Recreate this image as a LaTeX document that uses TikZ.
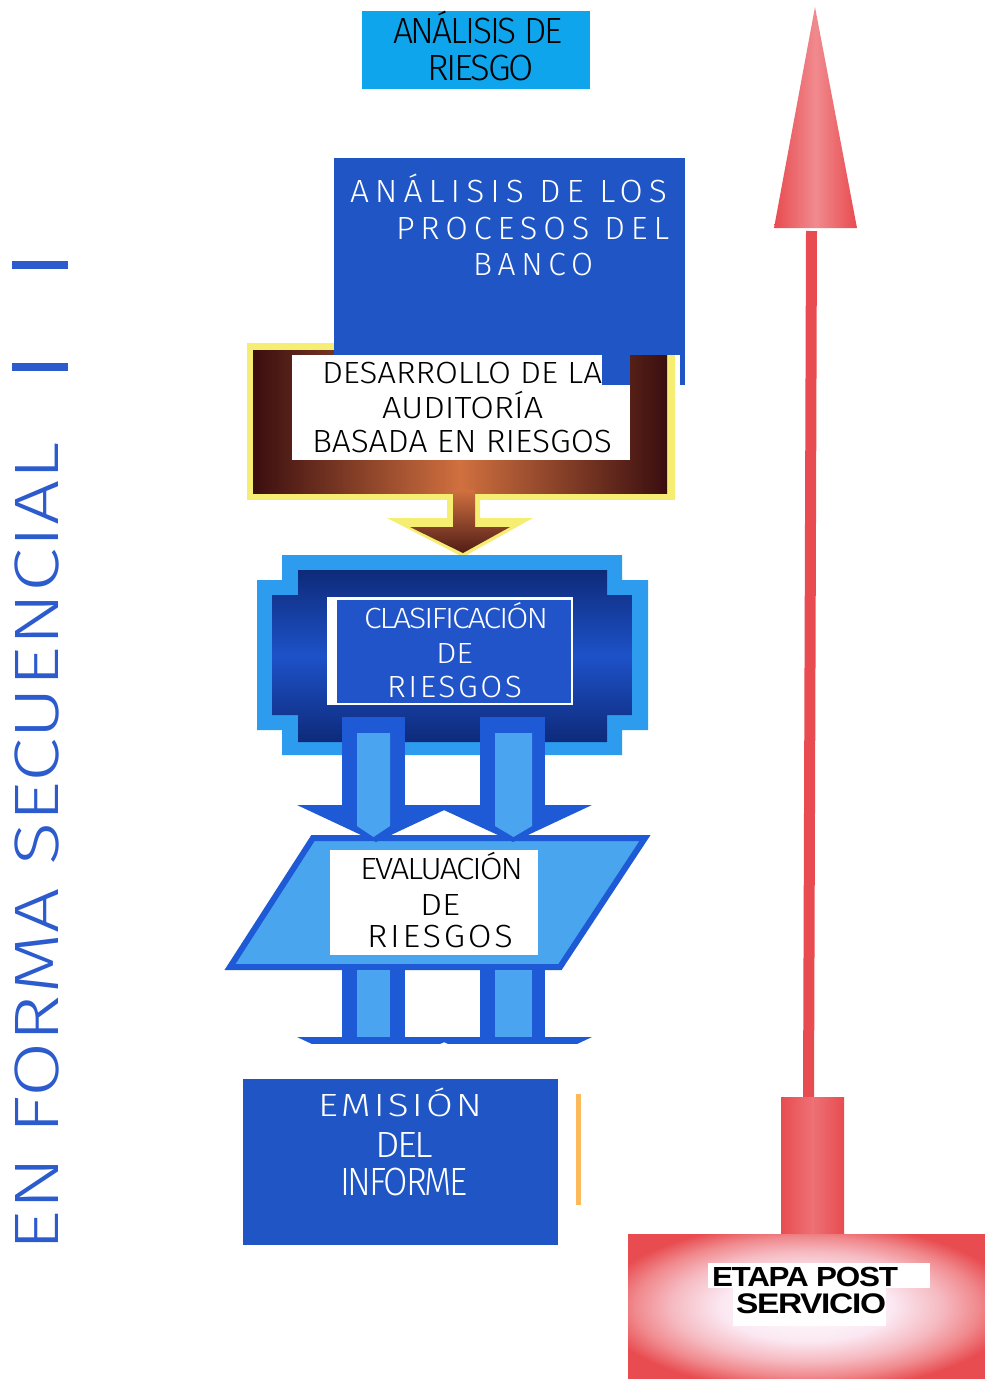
\documentclass[tikz,border=0pt]{standalone}
\usepackage{fontspec}
\usepackage{graphicx}
\newfontfamily\lt{Fira Sans Light}
\newfontfamily\ltw{Fira Sans Light}[LetterSpace=18]
\newfontfamily\ltm{Fira Sans Light}[LetterSpace=8]
\newfontfamily\ltc{Fira Sans Light}[LetterSpace=-6]
\newfontfamily\blk{Liberation Sans}[LetterSpace=-4]
\definecolor{cyanbox}{HTML}{0EA5EC}
\definecolor{boxblue}{HTML}{1F55C4}
\definecolor{sideblue}{HTML}{2B5BCD}
\definecolor{yel}{HTML}{F5EE72}
\definecolor{brdark}{HTML}{3A0E0F}
\definecolor{brmid}{HTML}{D0703F}
\definecolor{crossout}{HTML}{2E9CEE}
\definecolor{crossin}{HTML}{1D52C8}
\definecolor{crossnavy}{HTML}{0E2A7A}
\definecolor{txtblue}{HTML}{2154C8}
\definecolor{arrblue}{HTML}{1E5AD6}
\definecolor{arrlight}{HTML}{4BA4EF}
\definecolor{paral}{HTML}{4AA5EF}
\definecolor{orng}{HTML}{FDBA5C}
\definecolor{redA}{HTML}{E84C50}
\definecolor{redB}{HTML}{F08A8E}
\definecolor{pinkc}{HTML}{FBE8F2}
\pgfdeclareradialshading{glow}{\pgfpoint{0bp}{0bp}}{color(0bp)=(white); color(12bp)=(pinkc); color(19bp)=(redB!50!pinkc); color(24bp)=(redB); color(29bp)=(redA); color(50bp)=(redA)}
\newcommand\tl[8]{\node[anchor=base west,inner sep=0pt,outer sep=0pt,text=#7] (#1) at (#2,#3) {\resizebox{#4pt}{#5pt}{#6\vphantom{E}\smash{#8}}};}
\begin{document}
\begin{tikzpicture}[x=1pt,y=-1pt,
  boxfill/.style={fill=boxblue},
  stemout/.style={fill=arrblue},
  stemin/.style={fill=arrlight}]
\useasboundingbox (0,0) rectangle (985,1379);
\fill[white] (0,0) rectangle (985,1379);

% ---- left side
\fill[sideblue] (12,261) rectangle (68,269);
\fill[sideblue] (12,363) rectangle (68,371);
\node[rotate=90,anchor=base west,inner sep=0pt,text=sideblue] (side) at (58,1252)
  {\resizebox{809pt}{43pt}{\lt\vphantom{E}\smash{EN FORMA SECUENCIAL}}};

% ---- top box
\fill[cyanbox] (362,11) rectangle (590,89);
\tl{ta}{393}{43}{170}{25}{\ltc}{black}{ANÁLISIS DE}
\tl{tb}{427}{80}{107}{25}{\ltc}{black}{RIESGO}

% ---- brown arrow frame
\fill[yel] (247,343) rectangle (675,500);
\fill[yel] (447,498) -- (480,498) -- (480,518) -- (533,518) -- (463,557) -- (387,518) -- (447,518) -- cycle;
\shade[left color=brdark,right color=brdark,middle color=brmid] (253,350) rectangle (667,493);
\shade[top color=brmid,bottom color=brdark!85!brmid] (453,490) -- (475,490) -- (475,527) -- (510,527) -- (463,553) -- (410,527) -- (453,527) -- cycle;

% ---- processes box
\fill[boxfill] (334,158) rectangle (685,355);
\fill[white] (292,355) rectangle (630,460);
\fill[boxfill] (602,355) rectangle (630,385);
\fill[boxfill] (680,355) rectangle (685,385);
\tl{pa}{350}{202}{317}{22}{\ltw}{white}{ANÁLISIS DE LOS}
\tl{pb}{396}{239}{273}{22}{\ltw}{white}{PROCESOS DEL}
\tl{pc}{473}{275}{120}{22}{\ltw}{white}{BANCO}
\tl{da}{322}{383}{280}{21}{\lt}{black}{DESARROLLO DE LA}
\tl{db}{382}{418}{161}{21}{\lt}{black}{AUDITORÍA}
\tl{dc}{312}{452}{300}{22}{\lt}{black}{BASADA EN RIESGOS}

% ---- blue cross
\fill[crossout] (282,555) -- (622,555) -- (622,580) -- (648,580) -- (648,730) -- (622,730) -- (622,755) -- (282,755) -- (282,730) -- (257,730) -- (257,580) -- (282,580) -- cycle;
\shade[top color=crossnavy,bottom color=crossnavy,middle color=crossin] (298,570) -- (607,570) -- (607,595) -- (632,595) -- (632,715) -- (607,715) -- (607,742) -- (298,742) -- (298,715) -- (272,715) -- (272,595) -- (298,595) -- cycle;
\fill[white] (327,597) rectangle (573,705);
\fill[txtblue] (337,600) rectangle (571,703);
\tl{ca}{364}{628}{184}{20}{\ltc}{white}{CLASIFICACIÓN}
\tl{cb}{436}{663}{37}{20}{\lt}{white}{DE}
\tl{cc}{387}{697}{135}{21}{\ltm}{white}{RIESGOS}

% ---- parallelogram
\filldraw[fill=paral,draw=arrblue,line width=6pt,line join=miter] (313,838) -- (645,838) -- (560,967) -- (230,967) -- cycle;

% ---- upper arrows
\fill[stemout] (342,717) rectangle (405,806);
\fill[stemout] (480,717) rectangle (545,806);
\fill[stemout] (297,805) -- (455,805) -- (376,842) -- cycle;
\fill[stemout] (433,805) -- (592,805) -- (513,842) -- cycle;
\fill[stemin] (357,733) -- (390,733) -- (390,826) -- (373.5,837) -- (357,826) -- cycle;
\fill[stemin] (495,733) -- (532,733) -- (532,826) -- (513.5,837) -- (495,826) -- cycle;

\fill[white] (330,850) rectangle (538,955);
\tl{ea}{360}{879}{163}{21}{\ltc}{black}{EVALUACIÓN}
\tl{eb}{420}{915}{40}{21}{\lt}{black}{DE}
\tl{ec}{367}{947}{146}{22}{\ltm}{black}{RIESGOS}

% ---- lower arrows (cut)
\begin{scope}
\clip (0,0) rectangle (985,1043);
\fill[stemout] (342,970) rectangle (405,1050);
\fill[stemout] (480,970) rectangle (545,1050);
\fill[stemin] (357,970) rectangle (390,1050);
\fill[stemin] (495,970) rectangle (532,1050);
\fill[stemout] (297,1037) -- (455,1037) -- (376,1074) -- cycle;
\fill[stemout] (433,1037) -- (592,1037) -- (513,1074) -- cycle;
\end{scope}

% ---- emision box
\fill[boxfill] (243,1079) rectangle (558,1245);
\fill[orng] (576,1094) rectangle (581,1205);
\tl{ma}{318}{1116}{164}{22}{\ltm}{white}{EMISIÓN}
\tl{mb}{375}{1157}{58}{25}{\ltc}{white}{DEL}
\tl{mc}{340}{1195}{128}{27}{\ltc}{white}{INFORME}

% ---- red arrow
\shade[left color=redA,right color=redA,middle color=redB] (774,228) -- (857,228) -- (815,7) -- cycle;
\draw[redA,line width=11pt] (811.5,231) -- (808.5,1100);
\shade[left color=redA,right color=redA,middle color=redB!60!redA] (781,1097) rectangle (844,1236);
\shade[shading=glow] (628,1234) rectangle (985,1379);
\fill[white] (708,1263) rectangle (930,1288);
\fill[white] (733,1288) rectangle (886,1326);
\tl{sa}{712}{1286}{186}{19}{\blk\bfseries}{black}{ETAPA POST}
\tl{sb}{736}{1313}{150}{19.5}{\blk\bfseries}{black}{SERVICIO}
\end{tikzpicture}
\end{document}
